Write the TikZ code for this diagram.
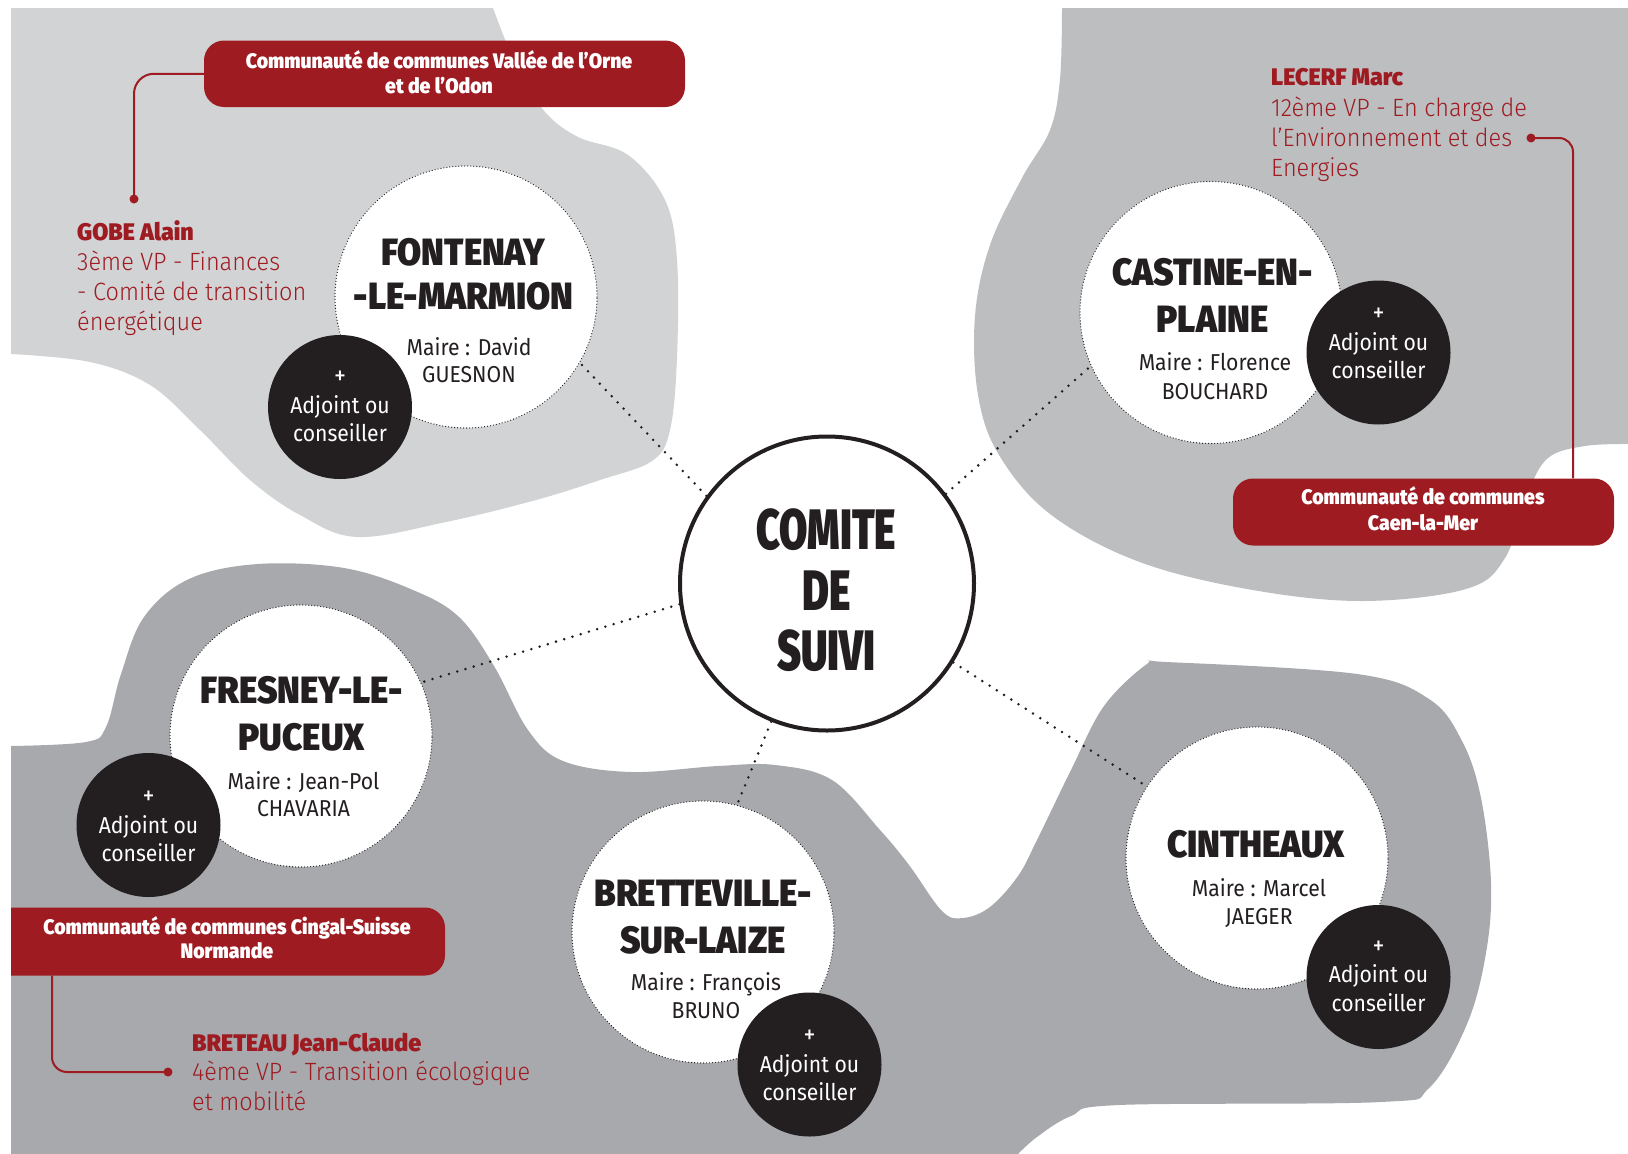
\documentclass[tikz,border=0pt]{standalone}
\usepackage{fontspec}
\setmainfont{Fira Sans}
\IfFontExistsTF{Fira Sans Black}{%
  \newfontfamily\ttlfont[FakeStretch=0.92]{Fira Sans Black}%
  \newfontfamily\comfont[FakeStretch=0.72]{Fira Sans Black}%
  \newfontfamily\boxfont[FakeStretch=0.925]{Fira Sans Black}%
  \newfontfamily\namefont[FakeStretch=0.97]{Fira Sans Black}%
  \newcommand\hw{}%
}{%
  \newfontfamily\ttlfont[FakeStretch=0.96,FakeBold=1.2]{Fira Sans}%
  \newfontfamily\comfont[FakeStretch=0.75,FakeBold=1.2]{Fira Sans}%
  \newfontfamily\boxfont[FakeStretch=0.97,FakeBold=0.8]{Fira Sans}%
  \newfontfamily\namefont[FakeStretch=1.0,FakeBold=0.8]{Fira Sans}%
  \newcommand\hw{\bfseries}%
}
\IfFontExistsTF{Fira Sans Light}{%
  \newfontfamily\descfont[FakeStretch=0.94]{Fira Sans Light}%
}{%
  \newfontfamily\descfont[FakeStretch=0.94]{Fira Sans}%
}
\newfontfamily\bodyfont[FakeStretch=0.92]{Fira Sans}
\definecolor{redc}{HTML}{9E1B22}
\definecolor{grayA}{HTML}{D1D3D4}
\definecolor{grayB}{HTML}{BCBEC0}
\definecolor{grayC}{HTML}{A7A9AC}
\definecolor{blackc}{HTML}{231F20}
\tikzset{
  wcirc/.style={circle, fill=white, draw=blackc, line width=1.3pt, dash pattern=on 0pt off 3pt, line cap=round, minimum size=262pt, inner sep=0pt},
  bcirc/.style={circle, fill=blackc, minimum size=144pt, inner sep=0pt},
  adj/.style={text=white, align=center, inner sep=0pt, font=\bodyfont\fontsize{23}{28.5}\selectfont},
  ttl/.style={text=blackc, align=center, inner sep=0pt, font=\ttlfont\hw\fontsize{38}{#1}\selectfont},
  maire/.style={text=blackc, align=center, inner sep=0pt, font=\bodyfont\fontsize{23}{#1}\selectfont},
  conn/.style={draw=blackc, line width=2.8pt, dash pattern=on 0pt off 8.6pt, line cap=round},
  rline/.style={draw=redc, line width=2pt},
  rdot/.style={circle, fill=redc, minimum size=9pt, inner sep=0pt},
  redbox/.style={fill=redc, rounded corners=20pt, inner sep=0pt},
  boxtxt/.style={text=white, align=center, inner sep=0pt, font=\boxfont\hw\fontsize{21}{#1}\selectfont},
  desc/.style={text=redc, align=left, anchor=north west, inner sep=0pt, font=\descfont\fontsize{25}{#1}\selectfont},
}
\newcommand{\pname}[1]{{\namefont\hw\fontsize{24}{30}\selectfont #1}}
\newcommand{\adjtext}{\strut{\fontsize{26}{28.5}\selectfont+}\\Adjoint ou\\conseiller\strut}
\begin{document}
\begin{tikzpicture}[x=1pt,y=-1pt]
\useasboundingbox (0,0) rectangle (1628,1154);
\fill[white] (0,0) rectangle (1628,1154);
% blobs
\fill[grayA] (11,8) -- plot[smooth,tension=0.6] coordinates {(493,8) (518,70) (545,112) (578,137) (628,155) (665,200) (677,260) (677,357) (670,430) (652,461) (600,480) (536,500) (446,522) (357,537) (300,515) (250,480) (200,430) (150,385) (90,362) (11,354)} -- cycle;
\fill[grayB] (1628,8) -- plot[smooth,tension=0.6] coordinates {(1062,8) (1060,79) (1050,130) (1022,178) (990,245) (975,316) (978,395) (999,455) (1050,514) (1137,561) (1247,589) (1361,601) (1466,589) (1505,558) (1527,495) (1548,458) (1585,446) (1628,444)} -- cycle;
\fill[grayC] (11,1154) -- plot[smooth,tension=0.6] coordinates {(11,746) (86,742) (106,727) (121,674) (144,617) (189,579) (258,564) (344,568) (413,590) (459,617) (494,666) (528,730) (563,761) (631,772) (718,766) (775,765) (832,780) (880,830) (909,865) (942,911) (963,918) (990,907) (1018,876) (1037,840) (1071,770) (1104,706) (1147,664) (1166,662) (1357,674) (1429,699) (1462,741) (1481,798) (1491,883) (1486,953) (1467,1024) (1429,1088) (1381,1102) (1119,1105) (1071,1116) (1037,1137) (1018,1154)} -- cycle;
% circles
\node[wcirc] (fontenay) at (466,297) {};
\node[wcirc] (castine) at (1211,312.5) {};
\node[wcirc] (fresney) at (301,736) {};
\node[wcirc] (bretteville) at (703,932) {};
\node[wcirc] (cintheaux) at (1257,858) {};
\node[circle, draw=blackc, fill=white, line width=4pt, minimum size=294pt, inner sep=0pt] (comite) at (827,583.5) {};
% connectors
\draw[conn] (comite.144) -- (fontenay.-30);
\draw[conn] (comite.37.6) -- (castine.204);
\draw[conn] (comite.188) -- (fresney.24);
\draw[conn] (comite.248) -- (bretteville.75);
\draw[conn] (comite.-32.3) -- (cintheaux.147.3);
% black circles
\node[bcirc] (fontenayadj) at (340,407) {};
\node[bcirc] (castineadj) at (1378.5,352.5) {};
\node[bcirc] (fresneyadj) at (148.5,825) {};
\node[bcirc] (brettevilleadj) at (809.5,1064.5) {};
\node[bcirc] (cintheauxadj) at (1378.5,977) {};
\node[adj] (fontenayadjtxt) at (340,407.5) {\adjtext};
\node[adj] (castineadjtxt) at (1378.5,344.5) {\adjtext};
\node[adj] (fresneyadjtxt) at (148.5,827.5) {\adjtext};
\node[adj] (brettevilleadjtxt) at (809.5,1066.3) {\adjtext};
\node[adj] (cintheauxadjtxt) at (1378.5,977) {\adjtext};
% titles
\node[text=blackc, align=center, inner sep=0pt, font=\comfont\hw\fontsize{57}{60.5}\selectfont] (comitetxt) at (826.5,598) {\strut COMITE\\DE\\SUIVI\strut};
\node[ttl=44] (fontenayttl) at (463.5,278.4) {\strut FONTENAY\\-LE-MARMION\strut};
\node[maire=27] (fontenaymaire) at (469,364) {\strut Maire : David\\GUESNON\strut};
\node[ttl=47] (castinettl) at (1212.5,300) {\strut CASTINE-EN-\\PLAINE\strut};
\node[maire=28.5] (castinemaire) at (1215,379.5) {\strut Maire : Florence\\BOUCHARD\strut};
\node[ttl=47] (fresneyttl) at (301.5,717.8) {\strut FRESNEY-LE-\\PUCEUX\strut};
\node[maire=27] (fresneymaire) at (303.5,797.7) {\strut Maire : Jean-Pol\\CHAVARIA\strut};
\node[ttl=47.7] (brettevillettl) at (703,920.3) {\strut BRETTEVILLE-\\SUR-LAIZE\strut};
\node[maire=28.7] (brettevillemaire) at (706,998.6) {\strut Maire : François\\BRUNO\strut};
\node[ttl=47] (cintheauxttl) at (1256,844) {CINTHEAUX};
\node[maire=28] (cintheauxmaire) at (1259,904.4) {\strut Maire : Marcel\\JAEGER\strut};
% persons
\node[desc=30] (gobe) at (77,219.5) {\strut\pname{GOBE Alain}\\3ème VP - Finances\\- Comité de transition\\énergétique};
\node[desc=30.3] (lecerf) at (1271,64.5) {\strut\pname{LECERF Marc}\\12ème VP - En charge de\\l’Environnement et des\\Energies};
\node[desc=29.4] (breteau) at (192,1030.5) {\strut\pname{BRETEAU Jean-Claude}\\4ème VP - Transition écologique\\et mobilité};
% red boxes
\node[redbox, minimum width=481pt, minimum height=66.5pt] (vallee) at (444.5,73.75) {};
\node[boxtxt=25] (valleetxt) at (439,75.8) {\strut Communauté de communes Vallée de l’Orne\\et de l’Odon\strut};
\node[redbox, minimum width=381pt, minimum height=67pt] (caen) at (1423.5,512) {};
\node[boxtxt=26] (caentxt) at (1423,511.8) {\strut Communauté de communes\\Caen-la-Mer\strut};
\begin{scope}
\clip (11,900) rectangle (460,985);
\fill[redc, rounded corners=20pt] (-30,907.5) rectangle (445,975.5);
\end{scope}
\node[inner sep=0pt, minimum width=434pt, minimum height=68pt] (cingal) at (228,941.5) {};
\node[boxtxt=24.3] (cingaltxt) at (227,941) {\strut Communauté de communes Cingal-Suisse\\Normande\strut};
% red connectors
\node[rdot] (gobedot) at (134,199) {};
\node[rdot] (lecerfdot) at (1531,138) {};
\node[rdot] (breteaudot) at (168,1072) {};
\draw[rline, rounded corners=20pt] (vallee.west) -| (gobedot.center);
\draw[rline, rounded corners=14pt] (lecerfdot.center) -| ([xshift=149.5pt]caen.north);
\draw[rline, rounded corners=15pt] ([xshift=-176pt]cingal.south) |- (breteaudot.center);
\end{tikzpicture}
\end{document}
